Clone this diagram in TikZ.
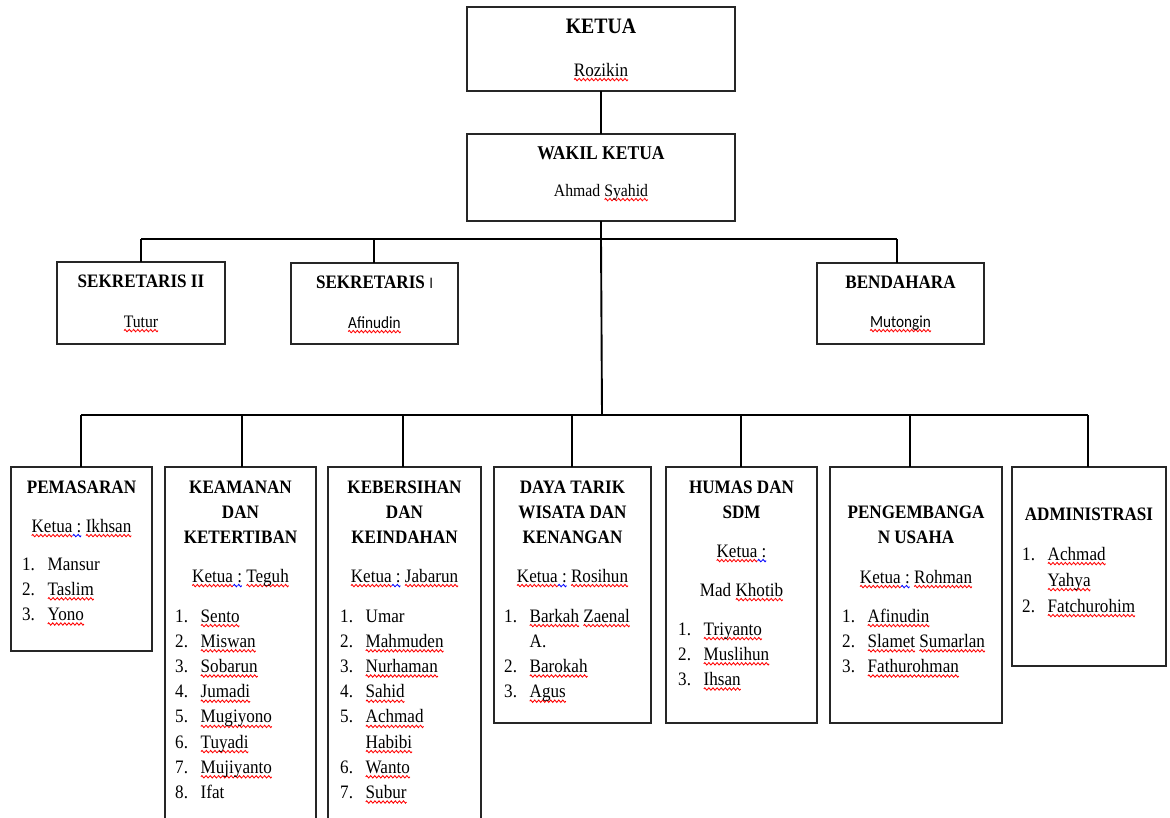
\documentclass[tikz,border=0pt]{standalone}
\usepackage{fontspec}
\setmainfont{Liberation Serif}[FakeStretch=0.9]
\setsansfont{Liberation Sans}[FakeStretch=0.9]
\newfontfamily\calib{Carlito}[FakeStretch=0.9]
\newsavebox\rwave
\newsavebox\bwave
\newsavebox\wordbox
\newcommand\mkwave[2]{\sbox#1{\begin{pgfpicture}%
  \pgfpathrectangle{\pgfpoint{0pt}{-1.2pt}}{\pgfpoint{4pt}{2.4pt}}\pgfusepath{use as bounding box}%
  \pgfsetbaseline{0pt}%
  \pgfsetlinewidth{0.85pt}\pgfsetstrokecolor{#2}%
  \pgfpathmoveto{\pgfpoint{0pt}{0pt}}%
  \pgfpathsine{\pgfpoint{1pt}{1.2pt}}\pgfpathcosine{\pgfpoint{1pt}{-1.2pt}}%
  \pgfpathsine{\pgfpoint{1pt}{-1.2pt}}\pgfpathcosine{\pgfpoint{1pt}{1.2pt}}%
  \pgfusepath{stroke}%
  \end{pgfpicture}}}
\AtBeginDocument{\mkwave{\rwave}{red}\mkwave{\bwave}{blue}}
\newcommand\rw[1]{\sbox\wordbox{#1}\rlap{\lower3.6pt\hbox to\wd\wordbox{\xleaders\copy\rwave\hfill}}\usebox\wordbox}
\newcommand\bw[1]{\sbox\wordbox{#1}\rlap{\lower3.6pt\hbox to\wd\wordbox{\xleaders\copy\bwave\hfill}}\usebox\wordbox}
\newcommand\itm[2]{\makebox[25.5pt][l]{#1}#2}
\begin{document}
\begin{tikzpicture}[x=1pt,y=-1pt,
  box/.style={draw=black!85,line width=1.3pt,anchor=north west,inner sep=0pt,outer sep=0pt},
  conn/.style={line width=1.9pt,black},
  ttl/.style={font=\bfseries\fontsize{19}{25}\selectfont,anchor=base,inner sep=0pt},
  txt/.style={font=\fontsize{19}{25.2}\selectfont,anchor=base,inner sep=0pt},
  lst/.style={font=\fontsize{19}{25.2}\selectfont,anchor=base west,inner sep=0pt}]
\path[use as bounding box,fill=white] (0,0) rectangle (1170,817);

% top boxes
\node[box,minimum width=268pt,minimum height=84pt] (ketua) at (467,7) {};
\node[box,minimum width=268pt,minimum height=87pt] (wakil) at (467,134) {};
\node[box,minimum width=168pt,minimum height=82pt] (sek2) at (57,262) {};
\node[box,minimum width=167pt,minimum height=81pt] (sek1) at (291,263) {};
\node[box,minimum width=167pt,minimum height=81pt] (bend) at (817,263) {};

\node[font=\bfseries\fontsize{22}{22}\selectfont,anchor=base,inner sep=0pt] (ketuaT) at (601,33) {KETUA};
\node[font=\fontsize{19}{19}\selectfont,anchor=base,inner sep=0pt] (ketuaN) at (601,76) {\rw{Rozikin}};
\node[font=\bfseries\fontsize{19.5}{19.5}\selectfont,anchor=base,inner sep=0pt] (wakilT) at (601,159) {WAKIL KETUA};
\node[font=\fontsize{17.5}{17.5}\selectfont,anchor=base,inner sep=0pt] (wakilN) at (601,196) {Ahmad \rw{Syahid}};
\node[ttl] (sek2T) at (141,287) {SEKRETARIS II};
\node[font=\fontsize{17.5}{17.5}\selectfont,anchor=base,inner sep=0pt] (sek2N) at (141,327) {\rw{Tutur}};
\node[ttl] (sek1T) at (374.5,288) {SEKRETARIS {\sffamily\mdseries\fontsize{15}{15}\selectfont I}};
\node[font=\calib\fontsize{17}{17}\selectfont,anchor=base,inner sep=0pt] (sek1N) at (374.5,328) {\rw{Afinudin}};
\node[ttl] (bendT) at (900.5,288) {BENDAHARA};
\node[font=\calib\fontsize{17}{17}\selectfont,anchor=base,inner sep=0pt] (bendN) at (900.5,327) {\rw{Mutongin}};

% bottom boxes
\node[box,minimum width=141pt,minimum height=184pt] (pem) at (11,467) {};
\node[box,minimum width=151pt,minimum height=380pt] (keam) at (165,467) {};
\node[box,minimum width=153pt,minimum height=380pt] (keb) at (328,467) {};
\node[box,minimum width=157pt,minimum height=256pt] (daya) at (494,467) {};
\node[box,minimum width=151pt,minimum height=256pt] (humas) at (666,467) {};
\node[box,minimum width=172pt,minimum height=256pt] (peng) at (830,467) {};
\node[box,minimum width=154pt,minimum height=199pt] (admin) at (1012,467) {};

% connectors
\draw[conn] (ketua.south) -- (wakil.north);
\coordinate (a0) at (601,239);
\coordinate (d1) at (141,239);
\coordinate (d2) at (374,239);
\coordinate (d3) at (897,239);
\draw[conn] (wakil.south) -- (a0);
\draw[conn] (d1) -- (d3);
\draw[conn] (d1) -- (d1 |- sek2.north);
\draw[conn] (d2) -- (d2 |- sek1.north);
\draw[conn] (d3) -- (d3 |- bend.north);
\coordinate (e0) at (602,415);
\coordinate (e1) at (81,415);
\coordinate (e2) at (242,415);
\coordinate (e3) at (403,415);
\coordinate (e4) at (572,415);
\coordinate (e5) at (741,415);
\coordinate (e6) at (910,415);
\coordinate (e7) at (1088,415);
\draw[conn] (a0) -- (e0);
\draw[conn] (e1) -- (e7);
\draw[conn] (e1) -- (e1 |- pem.north);
\draw[conn] (e2) -- (e2 |- keam.north);
\draw[conn] (e3) -- (e3 |- keb.north);
\draw[conn] (e4) -- (e4 |- daya.north);
\draw[conn] (e5) -- (e5 |- humas.north);
\draw[conn] (e6) -- (e6 |- peng.north);
\draw[conn] (e7) -- (e7 |- admin.north);

% PEMASARAN
\node[ttl] (pemT) at (81.5,493) {PEMASARAN};
\node[txt] (pemK) at (81.5,532) {\rw{Ketua}\bw{~:}~\rw{Ikhsan}};
\node[lst] (pemL) at (22,570) {\begin{tabular}[t]{@{}l@{}}
\itm{1.}{Mansur}\\ \itm{2.}{\rw{Taslim}}\\ \itm{3.}{\rw{Yono}}\end{tabular}};

% KEAMANAN
\node[ttl] (keamT) at (240.5,493) {\begin{tabular}[t]{@{}c@{}}KEAMANAN\\DAN\\KETERTIBAN\end{tabular}};
\node[txt] (keamK) at (240.5,582) {\rw{Ketua}\bw{~:}~\rw{Teguh}};
\node[lst] (keamL) at (175,622) {\begin{tabular}[t]{@{}l@{}}
\itm{1.}{\rw{Sento}}\\ \itm{2.}{\rw{Miswan}}\\ \itm{3.}{\rw{Sobarun}}\\ \itm{4.}{\rw{Jumadi}}\\
\itm{5.}{\rw{Mugiyono}}\\ \itm{6.}{\rw{Tuyadi}}\\ \itm{7.}{\rw{Mujiyanto}}\\ \itm{8.}{Ifat}\end{tabular}};

% KEBERSIHAN
\node[ttl] (kebT) at (404.5,493) {\begin{tabular}[t]{@{}c@{}}KEBERSIHAN\\DAN\\KEINDAHAN\end{tabular}};
\node[txt] (kebK) at (404.5,582) {\rw{Ketua}\bw{~:}~\rw{Jabarun}};
\node[lst] (kebL) at (340,622) {\begin{tabular}[t]{@{}l@{}}
\itm{1.}{Umar}\\ \itm{2.}{\rw{Mahmuden}}\\ \itm{3.}{\rw{Nurhaman}}\\ \itm{4.}{\rw{Sahid}}\\
\itm{5.}{\rw{Achmad}}\\ \itm{}{\rw{Habibi}}\\ \itm{6.}{\rw{Wanto}}\\ \itm{7.}{\rw{Subur}}\end{tabular}};

% DAYA TARIK
\node[ttl] (dayaT) at (572.5,493) {\begin{tabular}[t]{@{}c@{}}DAYA TARIK\\WISATA DAN\\KENANGAN\end{tabular}};
\node[txt] (dayaK) at (572.5,582) {\rw{Ketua}\bw{~:}~\rw{Rosihun}};
\node[lst] (dayaL) at (504,622) {\begin{tabular}[t]{@{}l@{}}
\itm{1.}{\rw{Barkah} \rw{Zaenal}}\\ \itm{}{A.}\\ \itm{2.}{\rw{Barokah}}\\ \itm{3.}{\rw{Agus}}\end{tabular}};

% HUMAS
\node[ttl] (humasT) at (741.5,493) {\begin{tabular}[t]{@{}c@{}}HUMAS DAN\\SDM\end{tabular}};
\node[txt] (humasK) at (741.5,557) {\rw{Ketua}\bw{~:}};
\node[txt] (humasN) at (741.5,596) {Mad \rw{Khotib}};
\node[lst] (humasL) at (678,635) {\begin{tabular}[t]{@{}l@{}}
\itm{1.}{\rw{Triyanto}}\\ \itm{2.}{\rw{Muslihun}}\\ \itm{3.}{\rw{Ihsan}}\end{tabular}};

% PENGEMBANGAN
\node[ttl] (pengT) at (916,518) {\begin{tabular}[t]{@{}c@{}}PENGEMBANGA\\N USAHA\end{tabular}};
\node[txt] (pengK) at (916,583) {\rw{Ketua}\bw{~:}~\rw{Rohman}};
\node[lst] (pengL) at (842,622) {\begin{tabular}[t]{@{}l@{}}
\itm{1.}{\rw{Afinudin}}\\ \itm{2.}{\rw{Slamet} \rw{Sumarlan}}\\ \itm{3.}{\rw{Fathurohman}}\end{tabular}};

% ADMINISTRASI
\node[ttl] (adminT) at (1089,520) {ADMINISTRASI};
\node[lst,font=\fontsize{19}{26}\selectfont] (adminL) at (1022,560) {\begin{tabular}[t]{@{}l@{}}
\itm{1.}{\rw{Achmad}}\\ \itm{}{\rw{Yahya}}\\ \itm{2.}{\rw{Fatchurohim}}\end{tabular}};
\end{tikzpicture}
\end{document}
